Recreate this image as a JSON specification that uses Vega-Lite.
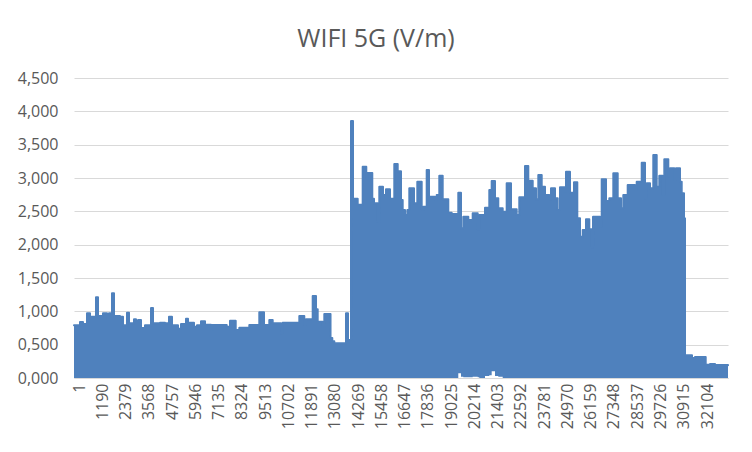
{
  "$schema": "https://vega.github.io/schema/vega-lite/v6.json",
  "width": 654,
  "height": 300,
  "autosize": {"type": "none"},
  "padding": {"left": 74, "top": 78, "right": 24, "bottom": 74},
  "background": "white",
  "title": {
    "text": "WIFI 5G (V/m)",
    "font": "Open Sans",
    "fontSize": 25,
    "fontWeight": "normal",
    "color": "#595959",
    "anchor": "middle",
    "baseline": "alphabetic",
    "offset": 31,
    "dx": -25,
    "dy": 33
  },
  "config": {
    "view": {"stroke": null},
    "axis": {"labelFont": "Open Sans", "labelColor": "#595959", "labelFontSize": 16}
  },
  "data": {
    "values": [
      {"i": 1, "v": 0.79, "lo": 0},
      {"i": 307, "v": 0.84, "lo": 0},
      {"i": 461, "v": 0.81, "lo": 0},
      {"i": 665, "v": 0.97, "lo": 0},
      {"i": 819, "v": 0.92, "lo": 0},
      {"i": 1125, "v": 1.21, "lo": 0},
      {"i": 1228, "v": 0.93, "lo": 0},
      {"i": 1483, "v": 0.97, "lo": 0},
      {"i": 1688, "v": 0.90, "lo": 0},
      {"i": 1790, "v": 0.97, "lo": 0},
      {"i": 1943, "v": 1.27, "lo": 0},
      {"i": 2046, "v": 0.93, "lo": 0},
      {"i": 2352, "v": 0.92, "lo": 0},
      {"i": 2506, "v": 0.79, "lo": 0},
      {"i": 2710, "v": 0.98, "lo": 0},
      {"i": 2813, "v": 0.82, "lo": 0},
      {"i": 3068, "v": 0.88, "lo": 0},
      {"i": 3170, "v": 0.75, "lo": 0},
      {"i": 3273, "v": 0.87, "lo": 0},
      {"i": 3426, "v": 0.75, "lo": 0},
      {"i": 3631, "v": 0.79, "lo": 0},
      {"i": 3938, "v": 1.05, "lo": 0},
      {"i": 4040, "v": 0.82, "lo": 0},
      {"i": 4398, "v": 0.83, "lo": 0},
      {"i": 4653, "v": 0.82, "lo": 0},
      {"i": 4857, "v": 0.92, "lo": 0},
      {"i": 5010, "v": 0.79, "lo": 0},
      {"i": 5317, "v": 0.74, "lo": 0},
      {"i": 5471, "v": 0.81, "lo": 0},
      {"i": 5726, "v": 0.89, "lo": 0},
      {"i": 5829, "v": 0.83, "lo": 0},
      {"i": 6135, "v": 0.77, "lo": 0},
      {"i": 6289, "v": 0.79, "lo": 0},
      {"i": 6493, "v": 0.85, "lo": 0},
      {"i": 6698, "v": 0.80, "lo": 0},
      {"i": 7004, "v": 0.72, "lo": 0},
      {"i": 7071, "v": 0.795, "lo": 0},
      {"i": 7807, "v": 0.77, "lo": 0},
      {"i": 7976, "v": 0.86, "lo": 0},
      {"i": 8267, "v": 0.72, "lo": 0},
      {"i": 8451, "v": 0.755, "lo": 0},
      {"i": 8962, "v": 0.795, "lo": 0},
      {"i": 9473, "v": 0.985, "lo": 0},
      {"i": 9714, "v": 0.795, "lo": 0},
      {"i": 9985, "v": 0.87, "lo": 0},
      {"i": 10158, "v": 0.82, "lo": 0},
      {"i": 10583, "v": 0.67, "lo": 0},
      {"i": 10670, "v": 0.83, "lo": 0},
      {"i": 11519, "v": 0.93, "lo": 0},
      {"i": 11773, "v": 0.795, "lo": 0},
      {"i": 11860, "v": 0.88, "lo": 0},
      {"i": 12203, "v": 1.23, "lo": 0},
      {"i": 12372, "v": 1.03, "lo": 0},
      {"i": 12458, "v": 0.845, "lo": 0},
      {"i": 12714, "v": 0.77, "lo": 0},
      {"i": 12796, "v": 0.96, "lo": 0},
      {"i": 13114, "v": 0.60, "lo": 0},
      {"i": 13205, "v": 0.55, "lo": 0},
      {"i": 13307, "v": 0.52, "lo": 0},
      {"i": 13906, "v": 0.97, "lo": 0},
      {"i": 14008, "v": 0.57, "lo": 0},
      {"i": 14161, "v": 3.855, "lo": 0},
      {"i": 14263, "v": 2.69, "lo": 0},
      {"i": 14503, "v": 2.6, "lo": 0},
      {"i": 14758, "v": 3.17, "lo": 0},
      {"i": 14942, "v": 3.0, "lo": 0},
      {"i": 15014, "v": 3.075, "lo": 0},
      {"i": 15249, "v": 2.69, "lo": 0},
      {"i": 15336, "v": 2.62, "lo": 0},
      {"i": 15525, "v": 2.345, "lo": 0},
      {"i": 15607, "v": 2.87, "lo": 0},
      {"i": 15796, "v": 2.745, "lo": 0},
      {"i": 15949, "v": 2.83, "lo": 0},
      {"i": 16154, "v": 2.69, "lo": 0},
      {"i": 16374, "v": 3.21, "lo": 0},
      {"i": 16548, "v": 3.1, "lo": 0},
      {"i": 16716, "v": 2.67, "lo": 0},
      {"i": 16803, "v": 2.52, "lo": 0},
      {"i": 16921, "v": 2.445, "lo": 0},
      {"i": 17039, "v": 2.52, "lo": 0},
      {"i": 17141, "v": 2.845, "lo": 0},
      {"i": 17381, "v": 2.62, "lo": 0},
      {"i": 17550, "v": 2.945, "lo": 0},
      {"i": 17774, "v": 2.52, "lo": 0},
      {"i": 17856, "v": 2.57, "lo": 0},
      {"i": 18030, "v": 3.12, "lo": 0},
      {"i": 18148, "v": 2.72, "lo": 0},
      {"i": 18454, "v": 2.67, "lo": 0},
      {"i": 18541, "v": 2.745, "lo": 0},
      {"i": 18674, "v": 3.035, "lo": 0},
      {"i": 18848, "v": 2.68, "lo": 0},
      {"i": 19134, "v": 2.48, "lo": 0},
      {"i": 19308, "v": 2.46, "lo": 0},
      {"i": 19645, "v": 2.78, "lo": 0.07},
      {"i": 19783, "v": 2.245, "lo": 0.02},
      {"i": 19901, "v": 2.42, "lo": 0.01},
      {"i": 20157, "v": 2.37, "lo": 0.01},
      {"i": 20381, "v": 2.47, "lo": 0.02},
      {"i": 20637, "v": 2.23, "lo": 0.01},
      {"i": 20719, "v": 2.445, "lo": 0},
      {"i": 21010, "v": 2.555, "lo": 0.03},
      {"i": 21230, "v": 2.82, "lo": 0.04},
      {"i": 21352, "v": 2.955, "lo": 0.1},
      {"i": 21521, "v": 2.695, "lo": 0.03},
      {"i": 21690, "v": 2.545, "lo": 0.02},
      {"i": 21915, "v": 2.495, "lo": 0},
      {"i": 22119, "v": 2.92, "lo": 0},
      {"i": 22339, "v": 2.53, "lo": 0},
      {"i": 22630, "v": 2.445, "lo": 0},
      {"i": 22763, "v": 2.71, "lo": 0},
      {"i": 23055, "v": 3.18, "lo": 0},
      {"i": 23224, "v": 2.96, "lo": 0},
      {"i": 23449, "v": 2.845, "lo": 0},
      {"i": 23617, "v": 2.68, "lo": 0},
      {"i": 23735, "v": 3.045, "lo": 0},
      {"i": 23909, "v": 2.87, "lo": 0},
      {"i": 24078, "v": 2.745, "lo": 0},
      {"i": 24298, "v": 2.68, "lo": 0},
      {"i": 24384, "v": 2.845, "lo": 0},
      {"i": 24589, "v": 2.695, "lo": 0},
      {"i": 24727, "v": 2.52, "lo": 0},
      {"i": 24844, "v": 2.86, "lo": 0},
      {"i": 25100, "v": 2.795, "lo": 0},
      {"i": 25151, "v": 3.095, "lo": 0},
      {"i": 25355, "v": 2.78, "lo": 0},
      {"i": 25560, "v": 2.935, "lo": 0},
      {"i": 25729, "v": 2.395, "lo": 0},
      {"i": 25867, "v": 2.12, "lo": 0},
      {"i": 26005, "v": 2.22, "lo": 0},
      {"i": 26173, "v": 2.38, "lo": 0},
      {"i": 26342, "v": 2.23, "lo": 0},
      {"i": 26465, "v": 1.96, "lo": 0},
      {"i": 26532, "v": 2.42, "lo": 0},
      {"i": 26889, "v": 2.27, "lo": 0},
      {"i": 26976, "v": 2.98, "lo": 0},
      {"i": 27196, "v": 2.655, "lo": 0},
      {"i": 27365, "v": 2.695, "lo": 0},
      {"i": 27569, "v": 3.07, "lo": 0},
      {"i": 27794, "v": 2.695, "lo": 0},
      {"i": 27963, "v": 2.545, "lo": 0},
      {"i": 28080, "v": 2.745, "lo": 0},
      {"i": 28305, "v": 2.895, "lo": 0},
      {"i": 28678, "v": 2.82, "lo": 0},
      {"i": 28765, "v": 2.945, "lo": 0},
      {"i": 29021, "v": 3.23, "lo": 0},
      {"i": 29189, "v": 2.695, "lo": 0},
      {"i": 29276, "v": 2.92, "lo": 0},
      {"i": 29445, "v": 2.845, "lo": 0},
      {"i": 29613, "v": 3.345, "lo": 0},
      {"i": 29787, "v": 2.87, "lo": 0},
      {"i": 29920, "v": 3.035, "lo": 0},
      {"i": 30094, "v": 2.745, "lo": 0},
      {"i": 30176, "v": 3.28, "lo": 0},
      {"i": 30381, "v": 3.02, "lo": 0},
      {"i": 30468, "v": 3.145, "lo": 0},
      {"i": 30687, "v": 2.97, "lo": 0},
      {"i": 30774, "v": 3.145, "lo": 0},
      {"i": 30979, "v": 2.945, "lo": 0},
      {"i": 31066, "v": 2.77, "lo": 0},
      {"i": 31183, "v": 2.395, "lo": 0},
      {"i": 31234, "v": 0.34, "lo": 0},
      {"i": 31592, "v": 0.30, "lo": 0},
      {"i": 31745, "v": 0.315, "lo": 0},
      {"i": 32292, "v": 0.20, "lo": 0},
      {"i": 32512, "v": 0.21, "lo": 0},
      {"i": 32768, "v": 0.195, "lo": 0},
      {"i": 33432, "v": 0.19, "lo": 0}
    ]
  },
  "mark": {
    "type": "area",
    "interpolate": "step-after",
    "color": "#4F81BD",
    "opacity": 1,
    "fillOpacity": 1,
    "line": {"color": "#4F81BD", "strokeWidth": 2, "strokeJoin": "round", "strokeCap": "round"}
  },
  "encoding": {
    "x": {
      "field": "i",
      "type": "quantitative",
      "scale": {"domain": [1, 33432], "nice": false, "zero": false},
      "axis": {
        "title": null,
        "values": [1, 1190, 2379, 3568, 4757, 5946, 7135, 8324, 9513, 10702, 11891, 13080, 14269, 15458, 16647, 17836, 19025, 20214, 21403, 22592, 23781, 24970, 26159, 27348, 28537, 29726, 30915, 32104],
        "labelAngle": -90,
        "labelAlign": "right",
        "labelBaseline": "middle",
        "labelPadding": 5,
        "labelOffset": 5,
        "labelOverlap": false,
        "labelFlush": false,
        "ticks": false,
        "tickSize": 0,
        "grid": false,
        "domainColor": "#D9D9D9",
        "format": "d"
      }
    },
    "y": {
      "field": "v",
      "type": "quantitative",
      "scale": {"domain": [0, 4.5], "nice": false},
      "axis": {
        "title": null,
        "values": [0, 0.5, 1, 1.5, 2, 2.5, 3, 3.5, 4, 4.5],
        "labelExpr": "replace(format(datum.value, '.3f'), '.', ',')",
        "domain": false,
        "ticks": false,
        "tickSize": 0,
        "labelPadding": 16,
        "gridColor": "#D9D9D9",
        "gridWidth": 1
      }
    },
    "y2": {"field": "lo"}
  }
}
